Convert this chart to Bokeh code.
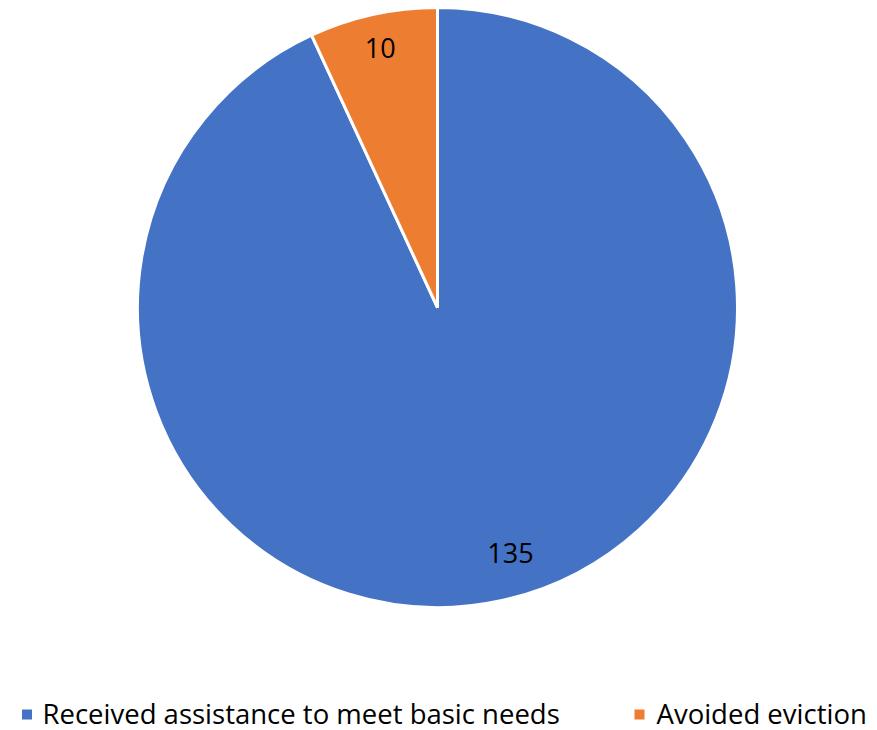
import numpy as np
from bokeh.plotting import figure
from bokeh.models import Range1d, ColumnDataSource
from bokeh.core.properties import value
from bokeh.embed import file_html
from bokeh.resources import INLINE

categories = ["Received assistance to meet basic needs", "Avoided eviction"]
counts = [135, 10]
colors = ["#4472C4", "#ED7D31"]

W, H = 877, 730
p = figure(width=W, height=H, output_backend="svg", toolbar_location=None,
           x_range=Range1d(0, W), y_range=Range1d(0, H), min_border=0)
p.axis.visible = False
p.grid.visible = False
p.outline_line_color = None

cx, cy, R = 437, 423, 300
vals = np.array(counts, dtype=float)
frac = vals / vals.sum()
ang = 2 * np.pi * frac
# clockwise from 12 o'clock
ends = np.pi / 2 - np.concatenate([[0], np.cumsum(ang)[:-1]])
starts = ends - ang
src = ColumnDataSource(dict(start=starts, end=ends, color=colors, cat=categories))
p.wedge(x=cx, y=cy, radius=R, start_angle="start", end_angle="end",
        fill_color="color", line_color="white", line_width=3, source=src)

label_r = [0.855, 0.887]
nudge = [np.radians(4.1), 0.0]
mids = (starts + ends) / 2 + np.array(nudge)
lx = cx + R * np.array(label_r) * np.cos(mids)
ly = cy + R * np.array(label_r) * np.sin(mids)
p.text(x=lx, y=ly, text=[str(c) for c in counts], text_align="center",
       text_baseline="middle", text_font=value("Open Sans"), text_font_size="27px",
       text_color="black")

# legend
sq_x = [26.5, 639]
txt_x = [42, 656]
leg_y = 16
p.rect(x=sq_x, y=[leg_y, leg_y], width=10, height=10,
       fill_color=colors, line_color=None)
p.text(x=txt_x, y=[leg_y + 1.5, leg_y + 1.5], text=categories,
       text_align="left", text_baseline="middle", text_font=value("Open Sans"),
       text_font_size="27.5px", text_color="black")

open("out.html", "w").write(file_html(p, INLINE))
